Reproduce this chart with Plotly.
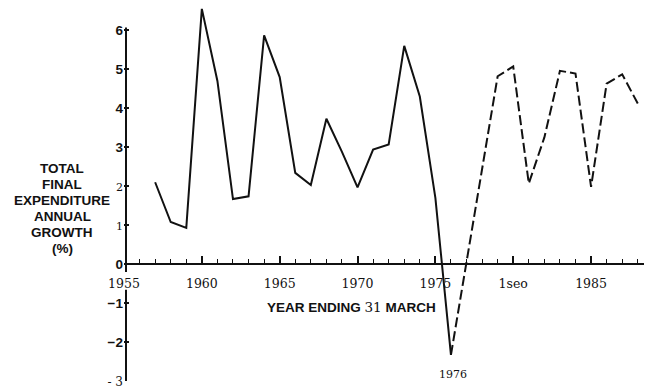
import plotly.graph_objects as go

# Total final expenditure, annual growth (%), year ending 31 March
years_actual = [1957, 1958, 1959, 1960, 1961, 1962, 1963, 1964, 1965, 1966,
                1967, 1968, 1969, 1970, 1971, 1972, 1973, 1974, 1975, 1976]
growth_actual = [2.1, 1.08, 0.93, 6.55, 4.7, 1.67, 1.74, 5.87, 4.8, 2.34,
                 2.03, 3.73, 2.88, 1.97, 2.94, 3.07, 5.6, 4.3, 1.7, -2.33]

years_projected = [1976, 1977, 1978, 1979, 1980, 1981, 1982, 1983, 1984,
                   1985, 1986, 1987, 1988]
growth_projected = [-2.33, 0.05, 2.45, 4.82, 5.07, 2.07, 3.25, 4.96, 4.89,
                    1.98, 4.63, 4.87, 4.12]

x_tick_vals = [1955, 1960, 1965, 1970, 1975, 1980, 1985]
x_tick_text = ["1955", "1960", "1965", "1970", "1975", "1seo", "1985"]

y_tick_vals = [6, 5, 4, 3, 2, 1, 0, -1, -2, -3]
SERIF = "<span style='font-family:DejaVu Serif;font-weight:normal;font-size:11px'>{}</span>"
y_tick_text = ["6", "5", "4", "3", SERIF.format("2"), SERIF.format("1"), "0",
               "\u22121", "\u22122",
               "<span style='font-family:DejaVu Serif;font-weight:normal;font-size:12px'>- 3</span>"]

y_title_lines = ["TOTAL", "FINAL", "EXPENDITURE", "ANNUAL", "GROWTH", "(%)"]
x_title = "YEAR ENDING <span style='font-family:DejaVu Serif;font-weight:normal'>31</span> MARCH"

X_RANGE = [1955, 1988.4]
Y_RANGE = [-3, 6.7]
W, H = 647, 392
M = dict(l=124, r=3, t=3, b=11)

INK = "#111111"
SANS = "Liberation Sans, Arial, sans-serif"
SERIF_FAMILY = "DejaVu Serif, serif"

plot_w = W - M["l"] - M["r"]
plot_h = H - M["t"] - M["b"]
px_per_unit = plot_h / (Y_RANGE[1] - Y_RANGE[0])


def y_from_px(py):
    """Convert a pixel row into a y data value."""
    return Y_RANGE[1] - (py - M["t"]) / px_per_unit


fig = go.Figure()

fig.add_trace(go.Scatter(
    x=years_actual, y=growth_actual, mode="lines",
    line=dict(color=INK, width=2), showlegend=False, hoverinfo="skip",
))
fig.add_trace(go.Scatter(
    x=years_projected, y=growth_projected, mode="lines",
    line=dict(color=INK, width=2, dash="10px,4px"), showlegend=False,
    hoverinfo="skip",
))

# vertical axis drawn in two pieces, broken around the 1955 label
axis_x = 2 / plot_w
fig.add_shape(type="line", xref="paper", yref="y", x0=axis_x, x1=axis_x,
              y0=6.07, y1=-0.2, line=dict(color=INK, width=2))
fig.add_shape(type="line", xref="paper", yref="y", x0=axis_x, x1=axis_x,
              y0=-0.66, y1=-3.0, line=dict(color=INK, width=2))

annotations = []
for i, line in enumerate(y_title_lines):
    annotations.append(dict(
        text=line, xref="paper", yref="y",
        x=(62 - M["l"]) / plot_w, y=y_from_px(168 + 16 * i),
        xanchor="center", yanchor="middle", showarrow=False,
        font=dict(family=SANS, size=13.5, color=INK, weight="bold"),
    ))

annotations.append(dict(
    text=x_title, xref="x", yref="y", x=1969.6, y=y_from_px(307),
    xanchor="center", yanchor="middle", showarrow=False,
    font=dict(family=SANS, size=13.5, color=INK, weight="bold"),
))

annotations.append(dict(
    text="1976", xref="x", yref="y", x=1976.1, y=-2.33, yshift=-11,
    xanchor="center", yanchor="top", showarrow=False,
    font=dict(family=SERIF_FAMILY, size=11, color=INK),
))

fig.update_layout(
    width=W, height=H, margin=M,
    paper_bgcolor="white", plot_bgcolor="white",
    annotations=annotations,
    xaxis=dict(
        range=X_RANGE, anchor="free",
        position=(0 - Y_RANGE[0]) / (Y_RANGE[1] - Y_RANGE[0]),
        showgrid=False, zeroline=False,
        showline=True, linecolor=INK, linewidth=1.5,
        tickmode="array", tickvals=x_tick_vals, ticktext=x_tick_text,
        ticks="inside", ticklen=7, tickwidth=1.5, tickcolor=INK,
        ticklabelstandoff=8,
        tickfont=dict(family=SERIF_FAMILY, size=12.5, color=INK),
        minor=dict(dtick=1, tick0=1955, ticks="inside", ticklen=4,
                   tickwidth=1.2, tickcolor=INK, showgrid=False),
    ),
    yaxis=dict(
        range=Y_RANGE, showgrid=False, zeroline=False, showline=False,
        tickmode="array", tickvals=y_tick_vals, ticktext=y_tick_text,
        ticks="inside", ticklen=5, tickwidth=1.5, tickcolor=INK,
        tickfont=dict(family=SANS, size=13.5, color=INK, weight="bold"),
    ),
)

fig.write_html("out.html")
